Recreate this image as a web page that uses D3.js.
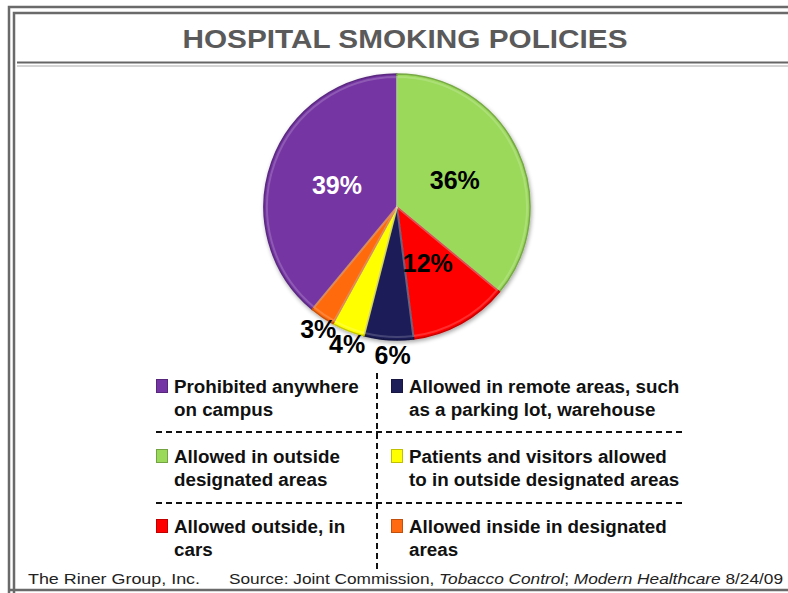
<!DOCTYPE html>
<html>
<head>
<meta charset="utf-8">
<script src="https://cdn.jsdelivr.net/npm/d3@7"></script>
<style>
  html, body { margin: 0; padding: 0; background: #fff; }
  svg { display: block; }
</style>
</head>
<body>
<svg id="chart" width="788" height="593"></svg>
<script>
// Survey shares of hospital smoking policies (percent)
const categories = [
  "Prohibited anywhere on campus",
  "Allowed in outside designated areas",
  "Allowed outside, in cars",
  "Allowed in remote areas, such as a parking lot, warehouse",
  "Patients and visitors allowed to in outside designated areas",
  "Allowed inside in designated areas"
];
const legendLines = [
  ["Prohibited anywhere", "on campus"],
  ["Allowed in outside", "designated areas"],
  ["Allowed outside, in", "cars"],
  ["Allowed in remote areas, such", "as a parking lot, warehouse"],
  ["Patients and visitors allowed", "to in outside designated areas"],
  ["Allowed inside in designated", "areas"]
];
const values = [39, 36, 12, 6, 4, 3];
const colors = ["#7434a3", "#9ad95a", "#ff0000", "#1e1e58", "#ffff00", "#ff6a10"];

const titleText = "HOSPITAL SMOKING POLICIES";
const creditText = "The Riner Group, Inc.";

const svg = d3.select("#chart");
const W = 788, H = 593;

// ---- frame ----
const frame = svg.append("g").attr("fill", "none");
frame.append("path").attr("d", `M9,${H} V7 H${W}`).attr("stroke", "#6a6a6a").attr("stroke-width", 2.5);
frame.append("path").attr("d", `M14,${H} V13 H${W}`).attr("stroke", "#6a6a6a").attr("stroke-width", 2.5);
frame.append("line").attr("x1", 9).attr("x2", W).attr("y1", 590).attr("y2", 590).attr("stroke", "#6a6a6a").attr("stroke-width", 2.5);
// title rule (double)
frame.append("line").attr("x1", 17).attr("x2", W).attr("y1", 62.5).attr("y2", 62.5).attr("stroke", "#666").attr("stroke-width", 2);
frame.append("line").attr("x1", 17).attr("x2", W).attr("y1", 66).attr("y2", 66).attr("stroke", "#aaa").attr("stroke-width", 1);

// ---- title ----
svg.append("text")
  .attr("x", 405).attr("y", 48)
  .attr("text-anchor", "middle")
  .attr("font-family", "Liberation Sans, Arial, sans-serif")
  .attr("font-weight", "bold")
  .attr("font-size", 25)
  .attr("fill", "#5a5a5a")
  .attr("textLength", 445)
  .attr("lengthAdjust", "spacingAndGlyphs")
  .text(titleText);

// ---- pie ----
const cx = 397, cy = 207, R = 133;
const pie = d3.pie().sort(null).value(d => d)
  .startAngle(-2 * Math.PI * values[0] / 100)
  .endAngle(2 * Math.PI - 2 * Math.PI * values[0] / 100);
const arcs = pie(values);
const arc = d3.arc().innerRadius(0).outerRadius(R);

const defs = svg.append("defs");
const shadow = defs.append("filter").attr("id", "shadow").attr("x", "-10%").attr("y", "-10%").attr("width", "120%").attr("height", "120%");
shadow.append("feGaussianBlur").attr("in", "SourceAlpha").attr("stdDeviation", 2);
shadow.append("feOffset").attr("dx", 1).attr("dy", 2).attr("result", "off");
shadow.append("feComponentTransfer").append("feFuncA").attr("type", "linear").attr("slope", 0.35);
const merge = shadow.append("feMerge");
merge.append("feMergeNode");
merge.append("feMergeNode").attr("in", "SourceGraphic");

const pg = svg.append("g").attr("transform", `translate(${cx},${cy})`);
pg.append("g").attr("filter", "url(#shadow)")
  .selectAll("path").data(arcs).join("path")
  .attr("d", arc)
  .attr("fill", (d, i) => colors[i])
  .attr("stroke", (d, i) => d3.color(colors[i]).darker(0.7))
  .attr("stroke-width", 1.5)
  .attr("stroke-linejoin", "round");

// soft highlight along the inner edge of each slice
const inner = d3.arc().innerRadius(0).outerRadius(R - 3);
pg.append("g").selectAll("path").data(arcs).join("path")
  .attr("d", inner)
  .attr("fill", "none")
  .attr("stroke", "#ffffff")
  .attr("stroke-opacity", 0.18)
  .attr("stroke-width", 2);

// percentage labels: large slices inside, small ones just outside the rim
const inLabel = d3.arc().innerRadius(R * 0.48).outerRadius(R * 0.48);
const outLabel = d3.arc().innerRadius(R * 1.12).outerRadius(R * 1.12);
pg.append("g").selectAll("text").data(arcs).join("text")
  .attr("transform", d => {
    const [x, y] = (d.data >= 10 ? inLabel : outLabel).centroid(d);
    return `translate(${x + (d.data < 10 ? 5 : 0)},${y - (d.data < 10 ? 1 : 0)})`;
  })
  .attr("text-anchor", "middle")
  .attr("dy", "0.36em")
  .attr("font-family", "Liberation Sans, Arial, sans-serif")
  .attr("font-weight", "bold")
  .attr("font-size", 25)
  .attr("fill", (d, i) => i === 0 ? "#ffffff" : "#000000")
  .text(d => d.data + "%");

// ---- legend ----
const lg = svg.append("g")
  .attr("font-family", "Liberation Sans, Arial, sans-serif")
  .attr("font-weight", "bold")
  .attr("font-size", 18.8)
  .attr("fill", "#111");
const colX = [156, 391];
const rowY = [393, 463, 533];
categories.forEach((c, i) => {
  const col = Math.floor(i / 3), row = i % 3;
  const x = colX[col], y = rowY[row];
  lg.append("rect")
    .attr("x", x + 0.5).attr("y", y - 13.5)
    .attr("width", 11).attr("height", 13)
    .attr("fill", colors[i])
    .attr("stroke", d3.color(colors[i]).darker(0.8))
    .attr("stroke-width", 1);
  const t = lg.append("text").attr("x", x + 18).attr("y", y);
  legendLines[i].forEach((ln, k) => {
    t.append("tspan").attr("x", x + 18).attr("y", y + k * 22.5).text(ln);
  });
});
const dash = svg.append("g").attr("stroke", "#111").attr("stroke-width", 2).attr("stroke-dasharray", "6,4");
dash.append("line").attr("x1", 156).attr("x2", 686).attr("y1", 432).attr("y2", 432);
dash.append("line").attr("x1", 156).attr("x2", 686).attr("y1", 503).attr("y2", 503);
dash.append("line").attr("x1", 377).attr("x2", 377).attr("y1", 373).attr("y2", 572);

// ---- footer ----
const ft = svg.append("g")
  .attr("font-family", "Liberation Sans, Arial, sans-serif")
  .attr("font-size", 15)
  .attr("fill", "#222");
ft.append("text").attr("x", 28).attr("y", 584)
  .attr("textLength", 172).attr("lengthAdjust", "spacingAndGlyphs")
  .text(creditText);
const src = ft.append("text").attr("x", 229).attr("y", 584)
  .attr("textLength", 554).attr("lengthAdjust", "spacingAndGlyphs");
src.append("tspan").text("Source:  Joint Commission, ");
src.append("tspan").attr("font-style", "italic").text("Tobacco Control");
src.append("tspan").text("; ");
src.append("tspan").attr("font-style", "italic").text("Modern Healthcare");
src.append("tspan").text(" 8/24/09");
</script>
</body>
</html>
